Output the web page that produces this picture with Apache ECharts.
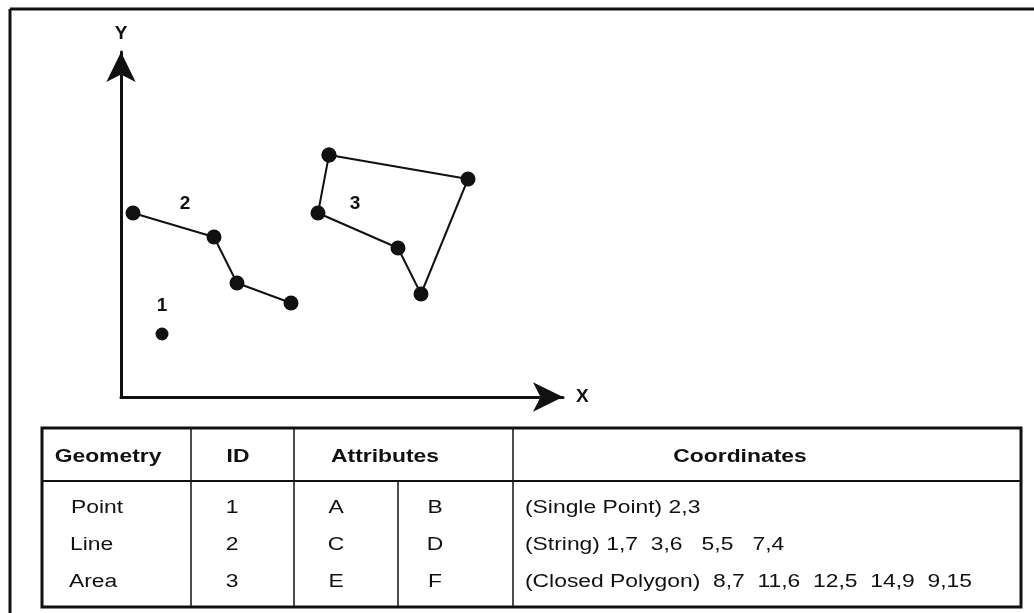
<!DOCTYPE html>
<html>
<head>
<meta charset="utf-8">
<script src="https://cdn.jsdelivr.net/npm/echarts@6/dist/echarts.min.js"></script>
<style>
  html, body { margin: 0; padding: 0; background: #fff; }
  #main { width: 1034px; height: 613px; }
</style>
</head>
<body>
<div id="main"></div>
<script>
// point, line string and polygon (20 px per unit)
const pointData = [[2.05, 3.15]]
const lineData = [[0.6, 9.2], [4.65, 8.0], [5.8, 5.7], [8.5, 4.7]]
const polygonData = [[10.4, 12.1], [17.35, 10.9], [15.0, 5.15], [13.85, 7.45], [9.85, 9.2], [10.4, 12.1]]
const idLabels = [['1', 2.05, 4.55], ['2', 3.2, 9.65], ['3', 11.7, 9.65]]

// table contents
const headers = ['Geometry', 'ID', 'Attributes', 'Coordinates']
const geometries = ['Point', 'Line', 'Area']
const ids = ['1', '2', '3']
const attrA = ['A', 'C', 'E']
const attrB = ['B', 'D', 'F']
const coords = ['(Single Point) 2,3', '(String) 1,7  3,6   5,5   7,4', '(Closed Polygon)  8,7  11,6  12,5  14,9  9,15']

const ink = '#111'
const font = 'Liberation Sans, Arial, sans-serif'

const chart = echarts.init(document.getElementById('main'))

// table layout
const tL = 42, tR = 1021, tT = 428, tB = 607, hB = 481
const colX = [191, 294, 513]
const splitX = 398
const rowY = [508, 545, 582]
const headX = [108, 238, 385, 740]
// the source type is a bit stretched sideways
const stretch = 1.27
const textCell = (x, y, text, align, bold) => ({
  type: 'text',
  x: x, y: y,
  scaleX: stretch,
  style: {
    text: text, fill: ink, font: (bold ? 'bold ' : '') + '18px ' + font,
    textAlign: align, textVerticalAlign: 'middle'
  }
})
const line = (x1, y1, x2, y2, w) => ({
  type: 'line',
  shape: { x1: x1, y1: y1, x2: x2, y2: y2 },
  style: { stroke: ink, lineWidth: w }
})

const graphics = []
graphics.push(line(10, 9, 1034, 9, 3))
graphics.push(line(10, 9, 10, 613, 3))
graphics.push({
  type: 'rect',
  shape: { x: tL, y: tT, width: tR - tL, height: tB - tT },
  style: { fill: 'none', stroke: ink, lineWidth: 3 }
})
graphics.push(line(tL, hB, tR, hB, 2))
colX.forEach(x => graphics.push(line(x, tT, x, tB, 1.5)))
graphics.push(line(splitX, hB, splitX, tB, 1.5))
headers.forEach((h, i) => graphics.push(textCell(headX[i], 457, h, 'center', true)))
rowY.forEach((y, i) => {
  graphics.push(textCell(71 - i, y, geometries[i], 'left', false))
  graphics.push(textCell(232, y, ids[i], 'center', false))
  graphics.push(textCell(336, y, attrA[i], 'center', false))
  graphics.push(textCell(435, y, attrB[i], 'center', false))
  graphics.push(textCell(525, y, coords[i], 'left', false))
})

const hiddenAxis = {
  type: 'value',
  min: 0,
  axisTick: { show: false },
  axisLabel: { show: false },
  splitLine: { show: false },
  nameTextStyle: { color: ink, fontSize: 19, fontWeight: 'bold', fontFamily: font },
  axisLine: {
    show: true,
    onZero: false,
    symbol: ['none', 'arrow'],
    symbolSize: [22, 30],
    lineStyle: { color: ink, width: 3 }
  }
}

chart.setOption({
  animation: false,
  grid: { left: 121, top: 52, right: 471, bottom: 216 },
  xAxis: Object.assign({}, hiddenAxis, { max: 22.1, name: 'X', nameGap: 13 }),
  yAxis: Object.assign({}, hiddenAxis, { max: 17.25, name: 'Y', nameGap: 9 }),
  graphic: graphics,
  series: [
    {
      type: 'scatter',
      data: pointData,
      symbolSize: 13,
      itemStyle: { color: ink, opacity: 1 }
    },
    {
      type: 'line',
      data: lineData,
      symbol: 'circle',
      symbolSize: 15,
      showAllSymbol: true,
      lineStyle: { color: ink, width: 2 },
      itemStyle: { color: ink }
    },
    {
      type: 'line',
      data: polygonData,
      symbol: 'circle',
      symbolSize: 15,
      showAllSymbol: true,
      lineStyle: { color: ink, width: 2 },
      itemStyle: { color: ink }
    },
    {
      type: 'scatter',
      data: idLabels.map(d => ({ name: d[0], value: [d[1], d[2]] })),
      symbolSize: 0,
      itemStyle: { opacity: 1 },
      label: {
        show: true,
        position: 'inside',
        formatter: '{b}',
        color: ink,
        fontSize: 19,
        fontWeight: 'bold',
        fontFamily: font
      }
    }
  ]
})
</script>
</body>
</html>
